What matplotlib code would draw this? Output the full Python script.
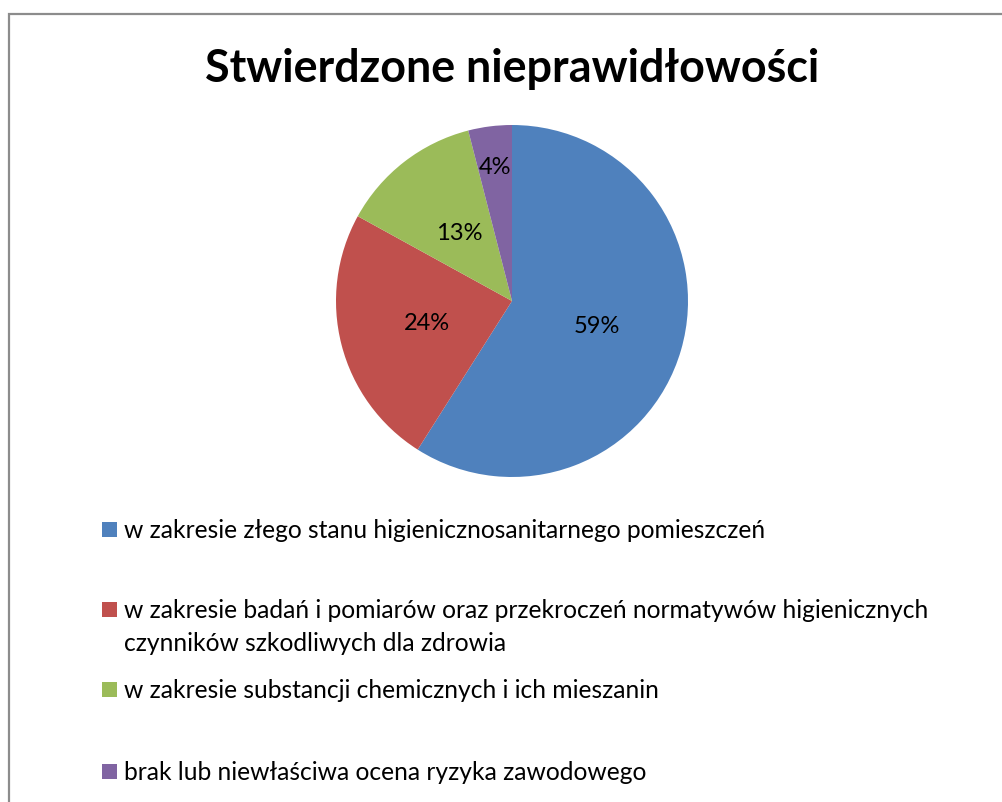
import matplotlib

matplotlib.use("Agg")
import matplotlib.pyplot as plt
import numpy as np
from matplotlib.patches import Rectangle

# data
categories = [
    ["w zakresie złego stanu higienicznosanitarnego pomieszczeń"],
    ["w zakresie badań i pomiarów oraz przekroczeń normatywów higienicznych",
     "czynników szkodliwych dla zdrowia"],
    ["w zakresie substancji chemicznych i ich mieszanin"],
    ["brak lub niewłaściwa ocena ryzyka zawodowego"],
]
shares = [59, 24, 13, 4]
colors = ["#4F81BD", "#C0504D", "#9BBB59", "#8064A2"]
label_dist = [0.50, 0.50, 0.49, 0.77]
title = "Stwierdzone nieprawidłowości"

W, H = 1003, 803
plt.rcParams["font.family"] = ["Lato", "DejaVu Sans"]

fig = plt.figure(figsize=(W / 100, H / 100), dpi=100)

# chart frame (runs off the right and bottom edge)
fig.patches.append(
    Rectangle((9.5 / W, -0.1), 1.2, (H - 14.5) / H + 0.1, transform=fig.transFigure,
              fill=False, edgecolor="#8c8c8c", linewidth=1.6)
)

fig.text(512 / W, 1 - 82 / H, title, ha="center", va="baseline",
         fontsize=32.3, fontweight="bold")

cx, cy, r = 512, 302, 176
ax = fig.add_axes([(cx - r) / W, (H - cy - r) / H, 2 * r / W, 2 * r / H])
wedges, _ = ax.pie(shares, colors=colors, startangle=90, counterclock=False,
                   wedgeprops=dict(linewidth=0))
ax.set_xlim(-1, 1)
ax.set_ylim(-1, 1)
ax.set_aspect("equal")

for w, v, d in zip(wedges, shares, label_dist):
    ang = np.deg2rad((w.theta1 + w.theta2) / 2)
    ax.text(d * np.cos(ang), d * np.sin(ang), f"{v}%", ha="center", va="center",
            fontsize=17)

# legend, laid out like the Excel one
legend_y = [530, 610, 690, 772]
line_gap = 33
for lines, col, y in zip(categories, colors, legend_y):
    fig.patches.append(
        Rectangle((102 / W, 1 - (y + 7.5) / H), 15 / W, 15 / H,
                  transform=fig.transFigure, facecolor=col, edgecolor="none")
    )
    for i, line in enumerate(lines):
        fig.text(124 / W, 1 - (y + 8 + i * line_gap) / H, line, ha="left",
                 va="baseline", fontsize=17.7)

fig.savefig("out.png", dpi=100)
